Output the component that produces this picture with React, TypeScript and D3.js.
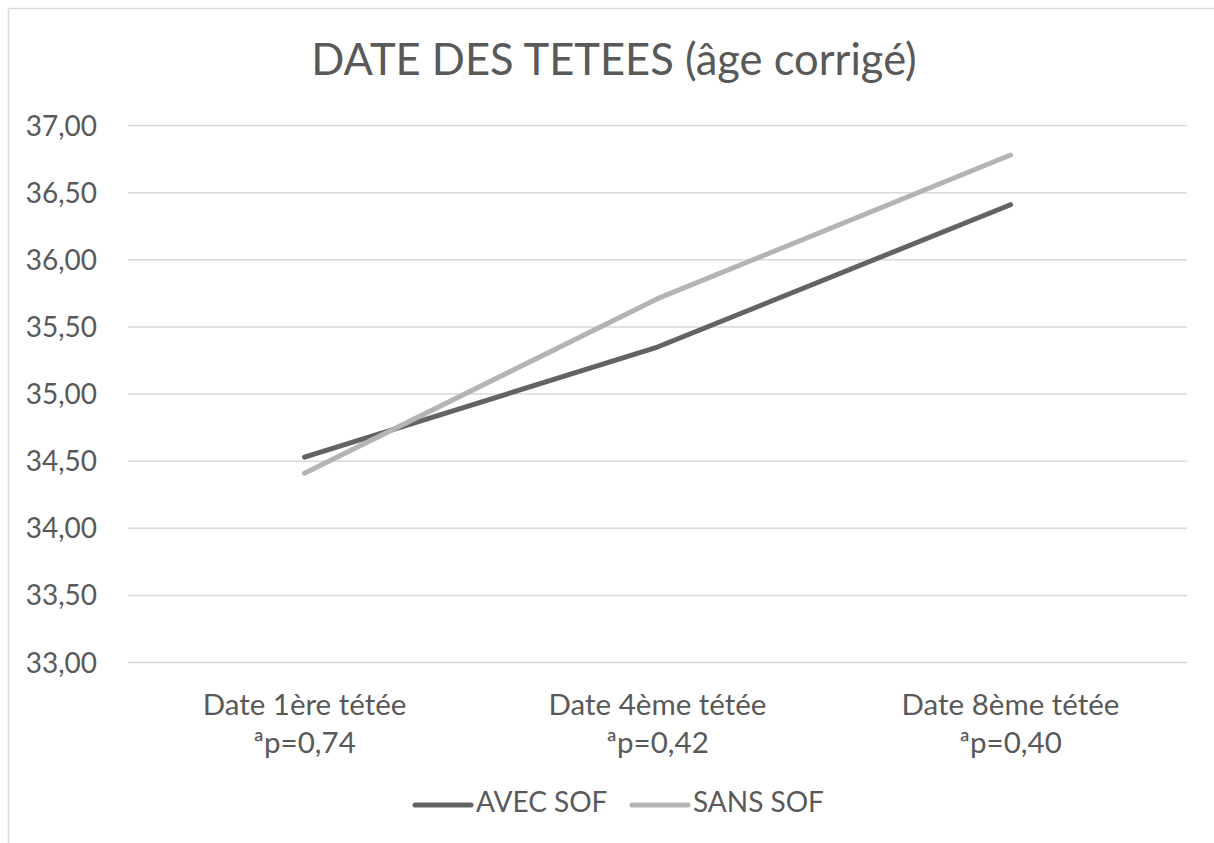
import React from 'react'
import * as d3 from 'd3'

const categories = ['Date 1ère tétée', 'Date 4ème tétée', 'Date 8ème tétée']
const pValues = ['ªp=0,74', 'ªp=0,42', 'ªp=0,40']
const avecSof = [34.53, 35.35, 36.41]
const sansSof = [34.41, 35.71, 36.78]
const yTicks = [33, 33.5, 34, 34.5, 35, 35.5, 36, 36.5, 37]
const seriesNames = ['AVEC SOF', 'SANS SOF']

const W = 1214
const H = 843
const FONT = 'Lato, "Open Sans", sans-serif'
const TEXT = '#595959'
const COLORS = ['#636363', '#b4b4b4']

export default function App() {
  const plot = { left: 128, right: 1187, top: 125.5, bottom: 662.5 }
  const x = d3.scaleBand<string>().domain(categories).range([plot.left, plot.right]).padding(0)
  const y = d3.scaleLinear().domain([33, 37]).range([plot.bottom, plot.top])
  const fmt = (v: number) => v.toFixed(2).replace('.', ',')
  const line = d3
    .line<number>()
    .x((_, i) => (x(categories[i]) as number) + x.bandwidth() / 2)
    .y(d => y(d))

  const series = [avecSof, sansSof]

  return (
    <svg
      width={W}
      height={H}
      style={{ position: 'absolute', left: 0, top: 0, background: '#fff' }}
      fontFamily={FONT}
    >
      {/* chart frame, cut at right and bottom edges */}
      <line x1={8.5} y1={8.5} x2={W} y2={8.5} stroke="#d9d9d9" strokeWidth={1.5} />
      <line x1={8.5} y1={8.5} x2={8.5} y2={H} stroke="#d9d9d9" strokeWidth={1.5} />

      <text x={614} y={75} textAnchor="middle" fontSize={43.5} fill={TEXT}>
        DATE DES TETEES (âge corrigé)
      </text>

      {yTicks.map(t => (
        <g key={t}>
          <line x1={plot.left} x2={plot.right} y1={y(t)} y2={y(t)} stroke="#d9d9d9" strokeWidth={1.5} />
          <text x={97} y={y(t)} dy="0.36em" textAnchor="end" fontSize={28} fill={TEXT}>
            {fmt(t)}
          </text>
        </g>
      ))}

      {categories.map((c, i) => {
        const cx = (x(c) as number) + x.bandwidth() / 2
        return (
          <g key={c}>
            <text x={cx} y={715} textAnchor="middle" fontSize={29.5} fill={TEXT}>
              {c}
            </text>
            <text x={cx} y={753} textAnchor="middle" fontSize={29.5} fill={TEXT}>
              {pValues[i]}
            </text>
          </g>
        )
      })}

      {series.map((s, i) => (
        <path
          key={seriesNames[i]}
          d={line(s) || ''}
          fill="none"
          stroke={COLORS[i]}
          strokeWidth={5}
          strokeLinecap="round"
          strokeLinejoin="round"
        />
      ))}

      {seriesNames.map((n, i) => {
        const lx = 415 + i * 217
        return (
          <g key={n}>
            <line x1={lx} x2={lx + 56} y1={805} y2={805} stroke={COLORS[i]} strokeWidth={5} strokeLinecap="round" />
            <text x={lx + 61} y={812} fontSize={28} fill={TEXT}>
              {n}
            </text>
          </g>
        )
      })}
    </svg>
  )
}
